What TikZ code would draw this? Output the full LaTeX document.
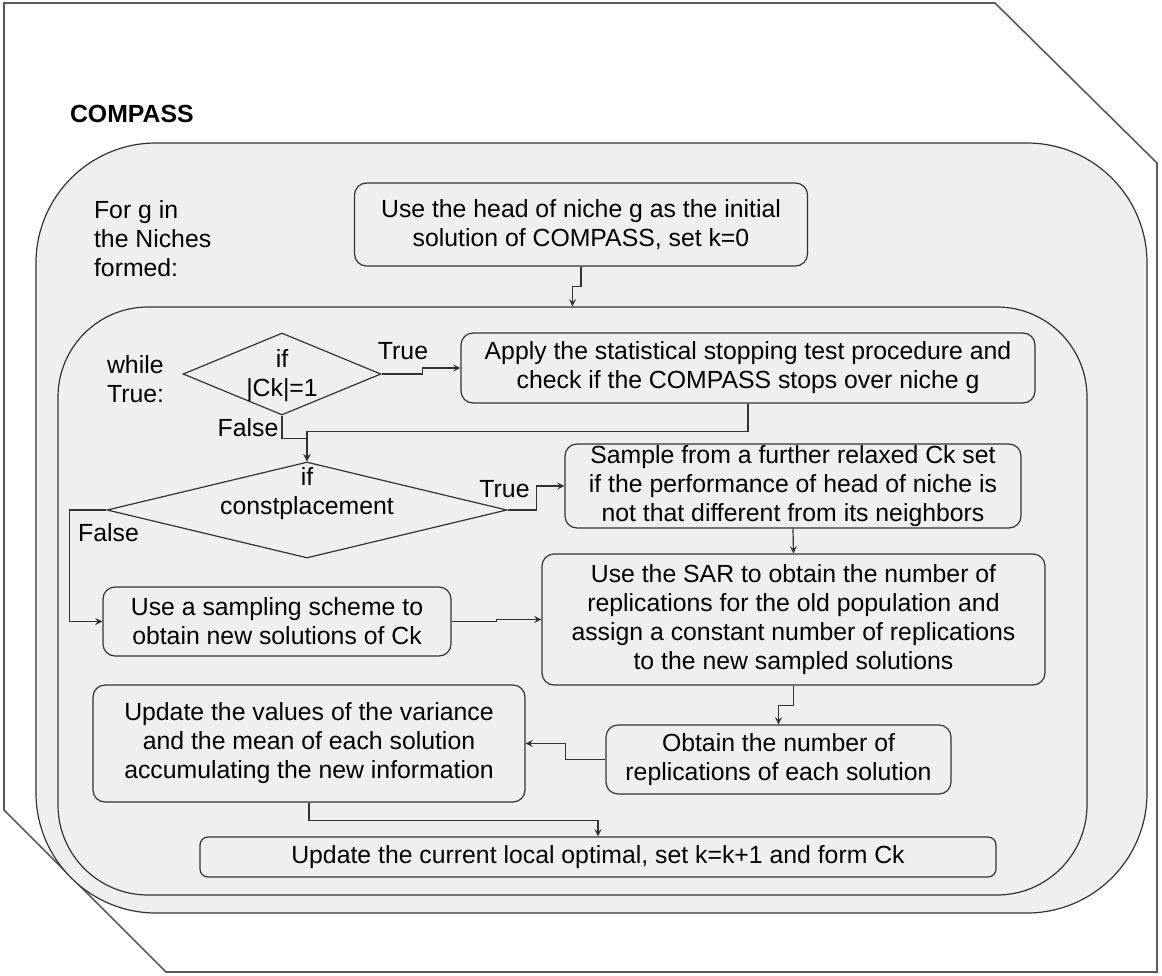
\documentclass[tikz,border=0pt]{standalone}
\usepackage{fontspec}
\setmainfont{Liberation Sans}
\usepackage{xcolor}
\usepackage{tikz}
\usetikzlibrary{shapes,arrows,positioning,calc}
\definecolor{panel}{HTML}{EFEFEF}
\definecolor{edge}{HTML}{333333}
\definecolor{frame}{HTML}{5A5A5A}

\begin{document}
\begin{tikzpicture}[
    x=0.5pt, y=-0.5pt,
    every node/.style={font=\fontsize{12.4pt}{14.5pt}\selectfont},
    block/.style={rectangle, rounded corners=6pt, draw=edge, fill=panel, line width=0.6pt, align=center, inner sep=0pt},
    decision/.style={diamond, draw=edge, fill=panel, line width=0.6pt, inner sep=0pt},
    panelbox/.style={rectangle, draw=edge, fill=panel, line width=0.6pt, inner sep=0pt},
    arrow/.style={-stealth, line width=0.6pt, draw=edge}
]
    \useasboundingbox (0,0) rectangle (1162,975);
    % outer frame with cut corners
    \draw[frame, line width=0.8pt] (4,3) -- (995,3) -- (1157,163) -- (1157,972) -- (166,972) -- (4,810) -- cycle;

    % the two loops
    \node[panelbox, rounded corners=60pt, minimum width=555.5pt, minimum height=385pt] (niches) at (591.5,528) {};
    \node[panelbox, rounded corners=45pt, minimum width=514.5pt, minimum height=294pt] (loop) at (572.5,601) {};

    \node[anchor=west, font=\fontsize{12.4pt}{14.5pt}\selectfont\bfseries] (title) at (63,114) {COMPASS};
    \node[anchor=west, align=left] (forg) at (87,239) {For g in\\the Niches\\formed:};
    \node[anchor=west, align=left] (whiletxt) at (100,379) {while\\True:};

    \node[block, minimum width=226.5pt, minimum height=41.5pt] (init) at (581,224.5) {Use the head of niche g as the initial\\solution of COMPASS, set k=0};

    \node[decision, minimum width=99pt, minimum height=41pt] (d1) at (282,374) {};
    \node[align=center] (d1txt) at (282,375.5) {if\\|Ck|=1};
    \node[block, minimum width=287pt, minimum height=35pt] (apply) at (748,368) {Apply the statistical stopping test procedure and\\check if the COMPASS stops over niche g};

    \node[decision, minimum width=200pt, minimum height=48pt] (d2) at (307,510) {};
    \node[align=center] (d2txt) at (307,494) {if\\constplacement};
    \node[block, minimum width=228pt, minimum height=42pt] (sample) at (793,486) {Sample from a further relaxed Ck set\\if the performance of head of niche is\\not that different from its neighbors};

    \node[block, minimum width=174pt, minimum height=34.5pt] (sampling) at (277,621.5) {Use a sampling scheme to\\obtain new solutions of Ck};
    \node[block, minimum width=251.5pt, minimum height=65.5pt] (sar) at (793.5,619.5) {Use the SAR to obtain the number of\\replications for the old population and\\assign a constant number of replications\\to the new sampled solutions};

    \node[block, minimum width=216pt, minimum height=58.5pt] (upd) at (309,743.5) {Update the values of the variance\\and the mean of each solution\\accumulating the new information};
    \node[block, minimum width=172.5pt, minimum height=34.5pt] (obtain) at (778.5,759.5) {Obtain the number of\\replications of each solution};

    \node[block, rounded corners=4pt, minimum width=398pt, minimum height=20pt] (final) at (598,857) {Update the current local optimal, set k=k+1 and form Ck};

    \node (t1) at (403,351) {True};
    \node (f1) at (248,428) {False};
    \node (t2) at (504.5,489) {True};
    \node (f2) at (108.5,533) {False};

    \draw[arrow] (init.south) -- ++(0,20) -| (loop.north);
    \draw[arrow] (d1.east) -- ++(41,0) |- (apply.west);
    \draw[arrow] (d1.south) -- ++(0,23) -| (d2.north);
    \draw[arrow] (apply.south) -- ++(0,28) -| (d2.north);
    \draw[arrow] (d2.east) -- ++(29,0) |- (sample.west);
    \draw[arrow] (d2.west) -- ++(-37,0) |- (sampling.west);
    \draw[arrow] (sample.south) -- (sar.north);
    \draw[arrow] (sampling.east) -- ++(45,0) |- (sar.west);
    \draw[arrow] (sar.south) -- ++(0,20) -| (obtain.north);
    \draw[arrow] (obtain.west) -- ++(-40,0) |- (upd.east);
    \draw[arrow] (upd.south) -- ++(0,18) -| (final.north);
\end{tikzpicture}
\end{document}
